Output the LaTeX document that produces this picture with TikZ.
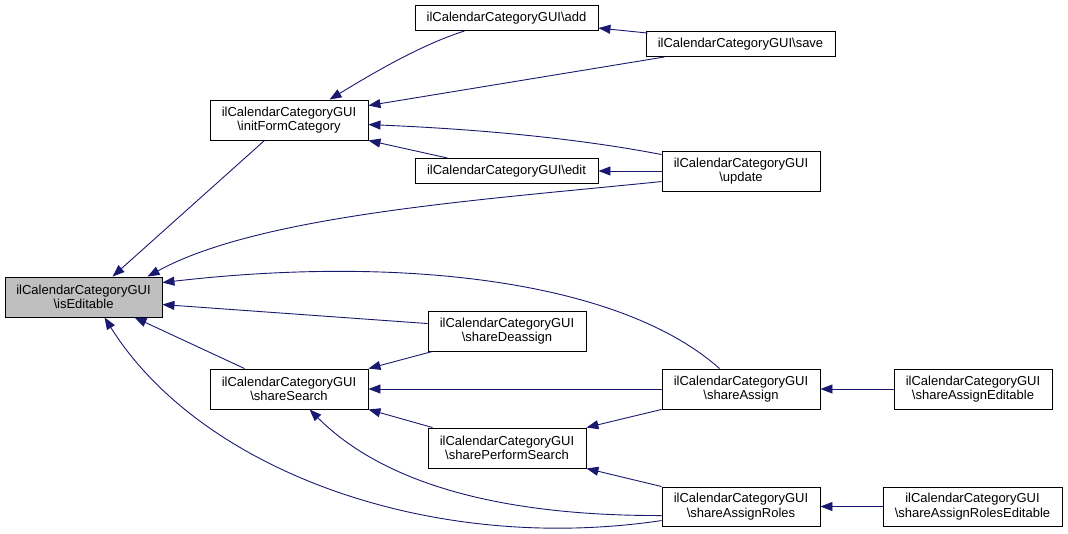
\documentclass[tikz,border=0pt]{standalone}
\usepackage{fontspec}
\setmainfont{Liberation Sans}
\usetikzlibrary{arrows.meta,calc}
\definecolor{edgeblue}{RGB}{25,25,112}
\definecolor{hilite}{RGB}{191,191,191}
\tikzset{
  box/.style={draw=black, line width=0.9pt, fill=white, inner sep=0pt, align=center,
    font=\fontsize{13}{14.7}\selectfont, minimum height=40pt, minimum width=158pt},
  arr/.style={draw=edgeblue, line width=0.9pt, -{Triangle[length=12pt,width=9pt]}},
}
\begin{document}
\begin{tikzpicture}[x=1pt,y=-1pt]
\useasboundingbox (0,0) rectangle (1068,534);
\node[box, fill=hilite, minimum width=157pt] (ise) at (83.5,297) {ilCalendarCategoryGUI\\\textbackslash isEditable};
\node[box] (ifc) at (289,120) {ilCalendarCategoryGUI\\\textbackslash initFormCategory};
\node[box] (ss) at (289,389) {ilCalendarCategoryGUI\\\textbackslash shareSearch};
\node[box, minimum width=183pt, minimum height=25pt] (add) at (506.5,18) {ilCalendarCategoryGUI\textbackslash add};
\node[box, minimum width=183pt, minimum height=25pt] (edit) at (506.5,171) {ilCalendarCategoryGUI\textbackslash edit};
\node[box, minimum width=189pt, minimum height=25pt] (save) at (740.5,44) {ilCalendarCategoryGUI\textbackslash save};
\node[box] (sd) at (507,331) {ilCalendarCategoryGUI\\\textbackslash shareDeassign};
\node[box] (sps) at (507,448) {ilCalendarCategoryGUI\\\textbackslash sharePerformSearch};
\node[box] (upd) at (741,171) {ilCalendarCategoryGUI\\\textbackslash update};
\node[box] (sa) at (741,389) {ilCalendarCategoryGUI\\\textbackslash shareAssign};
\node[box, minimum height=39pt] (sar) at (741,506.5) {ilCalendarCategoryGUI\\\textbackslash shareAssignRoles};
\node[box] (sae) at (973,389) {ilCalendarCategoryGUI\\\textbackslash shareAssignEditable};
\node[box, minimum width=179pt, minimum height=39pt] (sare) at (972.5,506.5) {ilCalendarCategoryGUI\\\textbackslash shareAssignRolesEditable};

% edges into isEditable
\draw[arr] ($(ifc.south west)+(55,0)$) -- ($(ise.north west)+(108,0)$);
\draw[arr] ($(upd.north west)+(0,31)$) .. controls (480,200) and (260,215) .. ($(ise.north west)+(143,0)$);
\draw[arr] ($(sa.north west)+(58,0)$) .. controls (620,280) and (400,255) .. ($(ise.north east)+(0,6)$);
\draw[arr] ($(sd.north west)+(0,13)$) -- ($(ise.north east)+(0,28)$);
\draw[arr] ($(ss.north west)+(35,0)$) -- ($(ise.south west)+(130,0)$);
\draw[arr] ($(sar.north west)+(0,34)$) .. controls (430,555) and (200,470) .. ($(ise.south west)+(100,0)$);
% edges into initFormCategory
\draw[arr] ($(add.south west)+(50,0)$) .. controls (420,45) and (370,75) .. ($(ifc.north west)+(120,0)$);
\draw[arr] ($(save.south west)+(19,0)$) -- ($(ifc.north east)+(0,6)$);
\draw[arr] ($(upd.north west)+(0,4)$) .. controls (560,135) and (450,128) .. ($(ifc.north east)+(0,25)$);
\draw[arr] ($(edit.north west)+(33,0)$) -- (ifc.south east);
% others
\draw[arr] ($(save.north west)+(2,2)$) -- ($(add.north east)+(0,23)$);
\draw[arr] (upd.west) -- (edit.east);
\draw[arr] ($(sd.south west)+(5,0)$) -- (ss.north east);
\draw[arr] (sa.west) -- (ss.east);
\draw[arr] ($(sps.north west)+(5,0)$) -- (ss.south east);
\draw[arr] ($(sar.north west)+(0,29)$) .. controls (480,516) and (375,475) .. ($(ss.south west)+(100,0)$);
\draw[arr] (sa.south west) -- (sps.north east);
\draw[arr] (sar.north west) -- (sps.south east);
\draw[arr] (sae.west) -- (sa.east);
\draw[arr] (sare.west) -- (sar.east);
\end{tikzpicture}
\end{document}
